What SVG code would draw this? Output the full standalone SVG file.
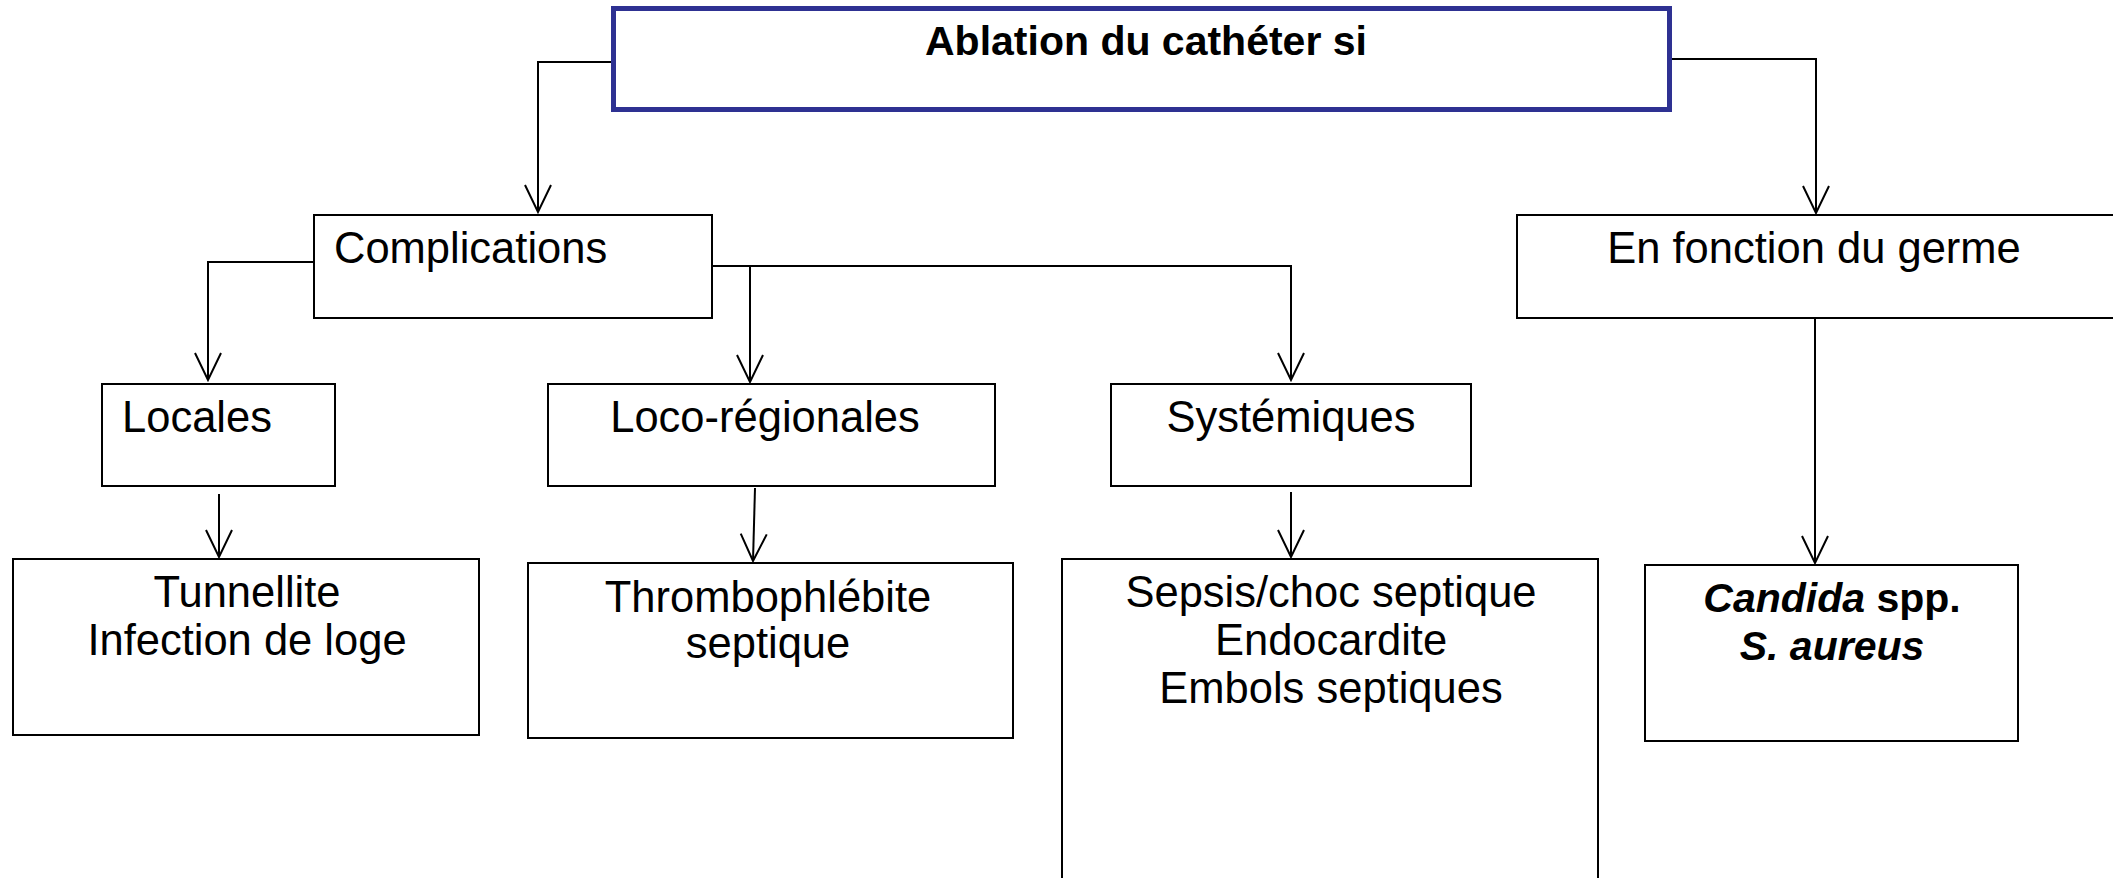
<svg xmlns="http://www.w3.org/2000/svg" width="2113" height="878" viewBox="0 0 2113 878">
<style>
  .box { fill: #ffffff; stroke: #000000; stroke-width: 2; }
  .top { fill: #ffffff; stroke: #2e3192; stroke-width: 5; }
  .t { font-family: "Liberation Sans", Arial, sans-serif; font-size: 43.5px; fill: #000000; }
  .b { font-weight: bold; font-size: 41px; }
  .i { font-style: italic; }
  .m { text-anchor: middle; }
  .c { fill: none; stroke: #000000; stroke-width: 2; marker-end: url(#arr); }
</style>
<defs>
  <marker id="arr" markerUnits="userSpaceOnUse" viewBox="-30 -15 32 30" refX="0" refY="0" markerWidth="32" markerHeight="30" orient="auto">
    <path d="M-27,-13 L0,0 L-27,13" fill="none" stroke="#000000" stroke-width="2"/>
  </marker>
</defs>
<rect width="2113" height="878" fill="#ffffff"/>

<g id="connectors">
  <path class="c" d="M611,62 H538 V212"/>
  <path class="c" d="M1672,59 H1816 V213"/>
  <path class="c" d="M314,262 H208 V380"/>
  <path class="c" d="M712,266 H1291 V380"/>
  <path class="c" d="M750,266 V382"/>
  <path class="c" d="M219,494 V557"/>
  <path class="c" d="M755,488 L753,561"/>
  <path class="c" d="M1291,492 V557"/>
  <path class="c" d="M1815,318 V563"/>
</g>

<g id="n-ablation">
  <rect class="top" x="613.5" y="8.5" width="1056" height="101"/>
  <text class="t b m" x="1146" y="55">Ablation du cathéter si</text>
</g>
<g id="n-complications">
  <rect class="box" x="314" y="215" width="398" height="103"/>
  <text class="t" x="334" y="263">Complications</text>
</g>
<g id="n-germe">
  <rect class="box" x="1517" y="215" width="620" height="103"/>
  <text class="t m" x="1814" y="263">En fonction du germe</text>
</g>
<g id="n-locales">
  <rect class="box" x="102" y="384" width="233" height="102"/>
  <text class="t" x="122" y="432">Locales</text>
</g>
<g id="n-locoregionales">
  <rect class="box" x="548" y="384" width="447" height="102"/>
  <text class="t m" x="765" y="432">Loco-régionales</text>
</g>
<g id="n-systemiques">
  <rect class="box" x="1111" y="384" width="360" height="102"/>
  <text class="t m" x="1291" y="432">Systémiques</text>
</g>
<g id="n-tunnellite">
  <rect class="box" x="13" y="559" width="466" height="176"/>
  <text class="t m" x="247" y="607">Tunnellite</text>
  <text class="t m" x="247" y="655">Infection de loge</text>
</g>
<g id="n-thrombo">
  <rect class="box" x="528" y="563" width="485" height="175"/>
  <text class="t m" x="768" y="612">Thrombophlébite</text>
  <text class="t m" x="768" y="658">septique</text>
</g>
<g id="n-sepsis">
  <rect class="box" x="1062" y="559" width="536" height="340"/>
  <text class="t m" x="1331" y="607">Sepsis/choc septique</text>
  <text class="t m" x="1331" y="655">Endocardite</text>
  <text class="t m" x="1331" y="703">Embols septiques</text>
</g>
<g id="n-germes">
  <rect class="box" x="1645" y="565" width="373" height="176"/>
  <text class="t b m" x="1832" y="612"><tspan class="i">Candida</tspan> spp.</text>
  <text class="t b i m" x="1832" y="660">S. aureus</text>
</g>
</svg>
